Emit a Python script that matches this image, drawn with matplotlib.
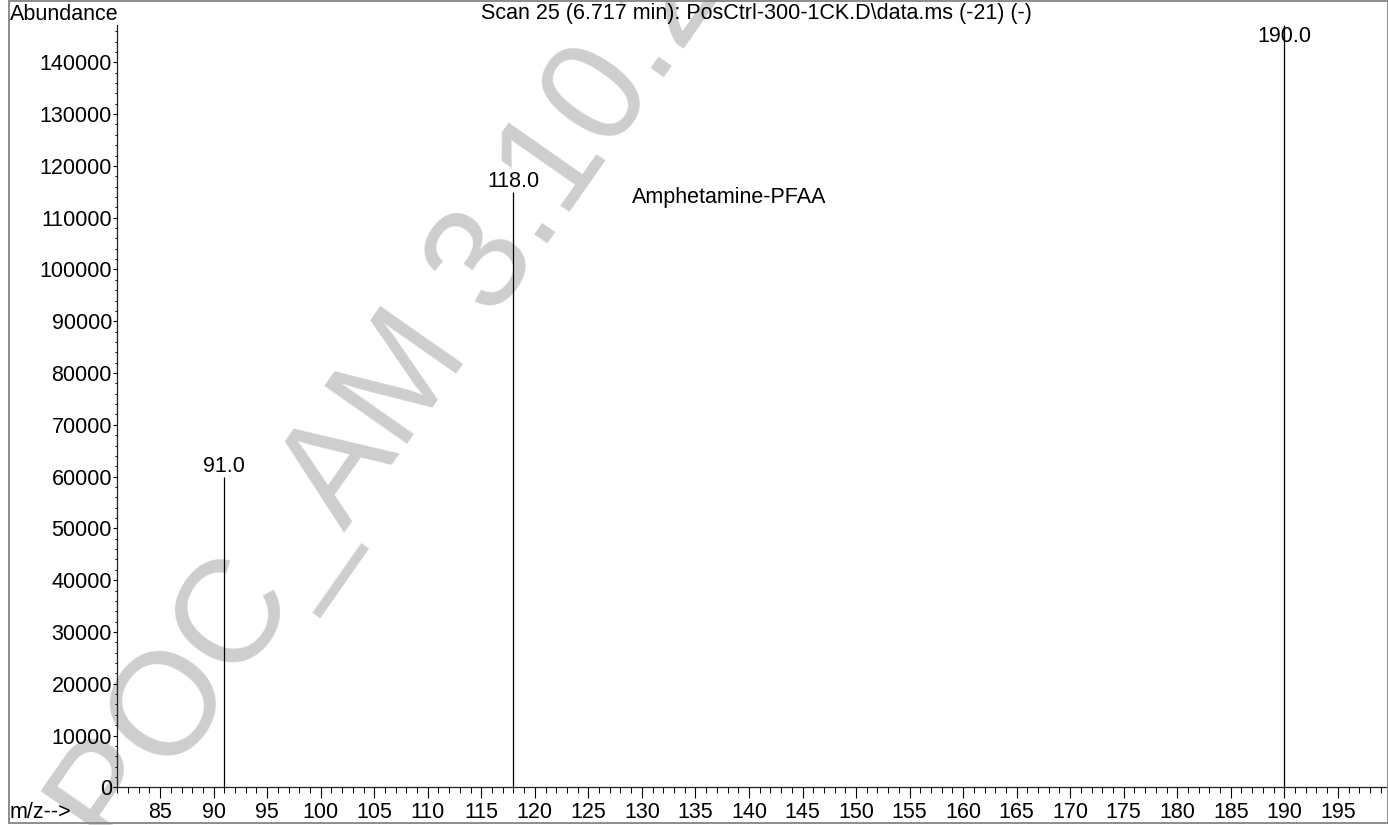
import numpy as np
import matplotlib.pyplot as plt
from matplotlib.ticker import MultipleLocator
from matplotlib.patches import Rectangle

plt.rcParams['font.family'] = ['Liberation Sans', 'DejaVu Sans']

# peaks of the mass spectrum
mz = [91.0, 118.0, 190.0]
abundance = [60000, 115000, 147200]
peak_labels = ['91.0', '118.0', '190.0']

title = r'Scan 25 (6.717 min): PosCtrl-300-1CK.D\data.ms (-21) (-)'
compound = 'Amphetamine-PFAA'
watermark = 'POC_AM 3.10.2023'

xmin, xmax = 81.0, 199.5
ymax = 147200
fs = 15.5

W, H = 1388, 825
fig = plt.figure(figsize=(W / 100, H / 100), dpi=100)
ax = fig.add_axes([117.3 / W, 1 - 787.3 / H, (1386 - 117.3) / W, (787.3 - 25) / H])
ax.set_facecolor('none')

# watermark behind everything
fig.text(117 / W, 1 - 858 / H, watermark, rotation=55, rotation_mode='anchor',
         ha='left', va='baseline', fontsize=105, color='#cecece', zorder=-1)

ax.vlines(mz, 0, abundance, color='black', lw=0.9)
for x, h, lab in zip(mz, abundance, peak_labels):
    if h > 0.95 * ymax:
        ax.annotate(lab, (x, ymax), xytext=(0, -1), textcoords='offset points',
                    ha='center', va='top', fontsize=fs, annotation_clip=False)
    else:
        ax.annotate(lab, (x, h), xytext=(0, 3.3), textcoords='offset points',
                    ha='center', va='baseline', fontsize=fs)

ax.text(129.1, 112800, compound, fontsize=fs, va='baseline', ha='left')

ax.set_xlim(xmin, xmax)
ax.set_ylim(0, ymax)
ax.xaxis.set_minor_locator(MultipleLocator(1))
ax.yaxis.set_minor_locator(MultipleLocator(2000))
ax.set_xticks(np.arange(85, 196, 5))
ax.set_yticks(np.arange(0, 140001, 10000))

for s in ['top', 'right']:
    ax.spines[s].set_visible(False)
for s in ['left', 'bottom']:
    ax.spines[s].set_linewidth(0.9)
    ax.spines[s].set_color('#222222')

ax.tick_params(axis='y', which='major', length=2.6, width=0.8, pad=1.3, labelsize=fs)
ax.tick_params(axis='y', which='minor', length=1.5, width=0.7)
ax.tick_params(axis='x', which='major', length=8, width=0.8, pad=2.5, labelsize=fs)
ax.tick_params(axis='x', which='minor', length=4.3, width=0.7)

fig.text(10 / W, 1 - 20 / H, 'Abundance', fontsize=fs, va='baseline', ha='left')
fig.text(10 / W, 1 - 818 / H, 'm/z-->', fontsize=fs, va='baseline', ha='left')
fig.text(481 / W, 1 - 19 / H, title, fontsize=fs, va='baseline', ha='left')

# outer frame
fig.patches.append(Rectangle((9.3 / W, 2.3 / H), (1388 - 9.3) / W, 1 - 3.3 / H,
                             transform=fig.transFigure, fill=False,
                             edgecolor='#8c8c8c', lw=1.4, zorder=1))

fig.savefig('out.png', dpi=100)
